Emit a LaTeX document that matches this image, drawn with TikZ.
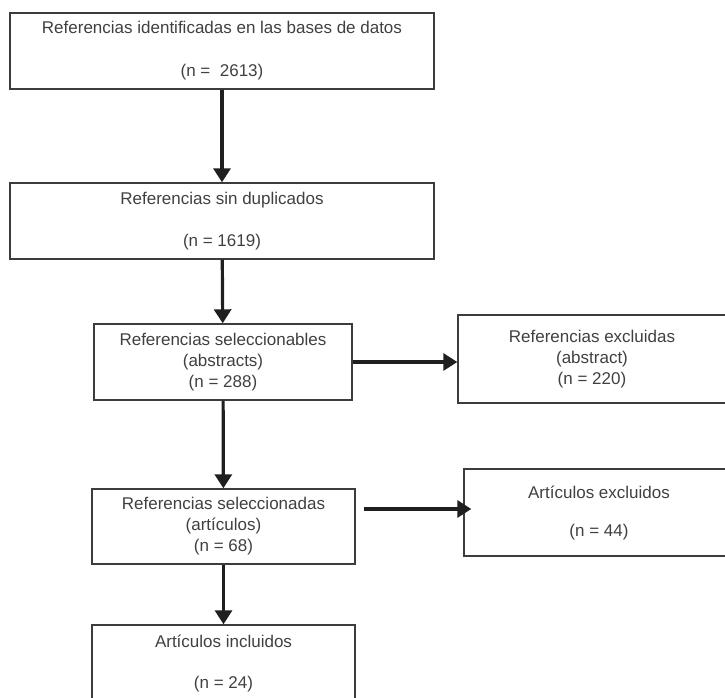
\documentclass[tikz,border=0pt]{standalone}
\usepackage{fontspec}
\setmainfont{Liberation Sans}
\usepackage{tikz}
\usetikzlibrary{arrows.meta,positioning}
\definecolor{boxline}{HTML}{3C3C3C}
\definecolor{boxtext}{HTML}{404040}
\tikzset{
  stage/.style={draw=boxline, line width=1.4pt, inner sep=0pt, align=center,
    text=boxtext, font=\fontsize{17}{21}\selectfont},
  flow/.style={-{Triangle[length=14pt,width=17pt]}, line width=3.2pt, draw=black!88}
}

\begin{document}
\begin{tikzpicture}[x=1pt,y=-1pt]
        \clip (0,0) rectangle (725,698);

        \node[stage, minimum width=424pt, minimum height=76pt] (ident) at (222,51)
            {Referencias identificadas en las bases de datos\\[22pt](n = \ 2613)};
        \node[stage, minimum width=424pt, minimum height=76pt] (sindup) at (222,221)
            {Referencias sin duplicados\\[21pt](n = 1619)};
        \node[stage, minimum width=258pt, minimum height=76pt] (selabs) at (223,362)
            {Referencias seleccionables\\(abstracts)\\(n = 288)};
        \node[stage, minimum width=268pt, minimum height=88pt] (exabs) at (592,359)
            {Referencias excluidas\\(abstract)\\(n = 220)};
        \node[stage, minimum width=263pt, minimum height=75pt] (selart) at (223.5,526.5)
            {Referencias seleccionadas\\(artículos)\\(n = 68)};
        \node[stage, minimum width=270pt, minimum height=87pt] (exart) at (599,512.5)
            {Artículos excluidos\\[17pt](n = 44)};
        \node[stage, minimum width=263pt, minimum height=76pt] (incl) at (223.5,663)
            {Artículos incluidos\\[20pt](n = 24)};

        \draw[flow] (ident) -- (sindup);
        \draw[flow] (sindup) -- (selabs);
        \draw[flow] (selabs.east) -- (selabs.east -| exabs.west);
        \draw[flow] (selabs) -- (selart);
        \draw[flow] ([shift={(8pt,17.5pt)}]selart.east) -- ([shift={(8pt,17.5pt)}]selart.east -| exart.west);
        \draw[flow] (selart) -- (incl);
\end{tikzpicture}
\end{document}
